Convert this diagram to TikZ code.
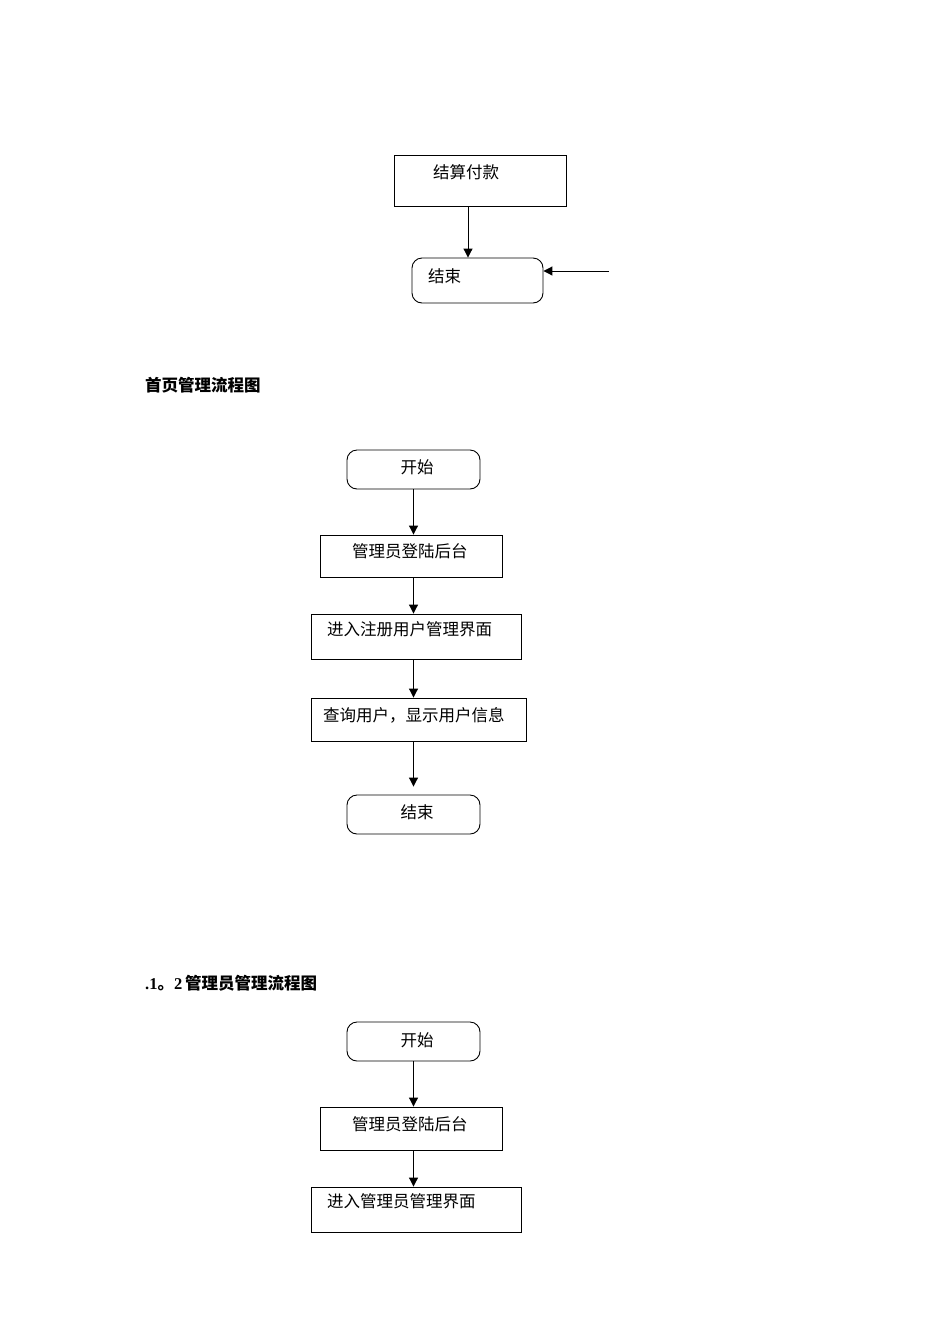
\documentclass[tikz,border=0pt]{standalone}
\usepackage{fontspec}
\setmainfont{Liberation Serif}
\newfontfamily\cjk{Noto Sans CJK SC}
\usetikzlibrary{arrows.meta,calc}
\tikzset{%
  stepnode/.style  = {shape=rectangle, draw, line width=0.9pt,%
                      inner ysep=0pt,%
                      font=\cjk\fontsize{16.5}{18}\selectfont},%
  procbox/.style   = {stepnode, align=left},%
  termbox/.style   = {stepnode, align=center, rounded corners=10pt},%
  heading/.style   = {anchor=base west, inner sep=0pt,%
                      font=\fontsize{16.5}{18}\selectfont\bfseries},%
  flowarrow/.style = {draw, line width=1pt,%
                      -{Triangle[length=9pt,width=9pt]}}%
}

\begin{document}
\begin{tikzpicture}[x=1pt,y=-1pt]
	\useasboundingbox (0,0) rectangle (950,1344);%
	% first part: payment
	\node[procbox, inner xsep=39pt, text width=94pt, text height=23pt, text depth=28pt]%
		(pay) at (480,180.5) {结算付款};%
	\node[termbox, align=left, inner xsep=16pt, text width=99pt, text height=24pt, text depth=21pt]%
		(endA) at (477.5,280.5) {结束};%
	\coordinate (payin) at (609,271);%
	\draw[flowarrow] ([xshift=-12pt]pay.south) -- ([xshift=-12pt]pay.south |- endA.north);%
	\draw[flowarrow] (payin) -- (payin -| endA.east);%
	% home page management
	\node[heading] (homehead) at (145,391) {\cjk 首页管理流程图};%
	\node[termbox, inner xsep=5pt, text width=123pt, text height=23pt, text depth=16pt]%
		(startB) at (413.5,469.5) {\hspace*{7pt}开始};%
	\node[procbox, inner xsep=32pt, text width=118pt, text height=22pt, text depth=20pt]%
		(loginB) at (411,556) {管理员登陆后台};%
	\node[procbox, inner xsep=16pt, text width=178pt, text height=21pt, text depth=24pt]%
		(userpage) at (416,636.5) {进入注册用户管理界面};%
	\node[procbox, inner xsep=12pt, text width=191pt, text height=23pt, text depth=20pt]%
		(query) at (418.5,719.5) {查询用户，显示用户信息};%
	\node[termbox, inner xsep=5pt, text width=123pt, text height=23pt, text depth=16pt]%
		(endB) at (413.5,814.5) {\hspace*{7pt}结束};%
	\draw[flowarrow] (startB.south) -- (startB.south |- loginB.north);%
	\draw[flowarrow] (startB.south |- loginB.south) -- (startB.south |- userpage.north);%
	\draw[flowarrow] (startB.south |- userpage.south) -- (startB.south |- query.north);%
	\draw[flowarrow] (startB.south |- query.south) -- ($(startB.south |- endB.north)+(0,-8)$);%
	% administrator management
	\node[heading] (adminhead) at (145,989) {.1{\cjk 。}2\,{\cjk 管理员管理流程图}};%
	\node[termbox, inner xsep=5pt, text width=123pt, text height=24pt, text depth=15pt]%
		(startC) at (413.5,1041.5) {\hspace*{7pt}开始};%
	\node[procbox, inner xsep=32pt, text width=118pt, text height=23pt, text depth=20pt]%
		(loginC) at (411,1128.5) {管理员登陆后台};%
	\node[procbox, inner xsep=16pt, text width=178pt, text height=20pt, text depth=25pt]%
		(adminpage) at (416,1209.5) {进入管理员管理界面};%
	\draw[flowarrow] (startC.south) -- (startC.south |- loginC.north);%
	\draw[flowarrow] (startC.south |- loginC.south) -- (startC.south |- adminpage.north);%
\end{tikzpicture}
\end{document}
